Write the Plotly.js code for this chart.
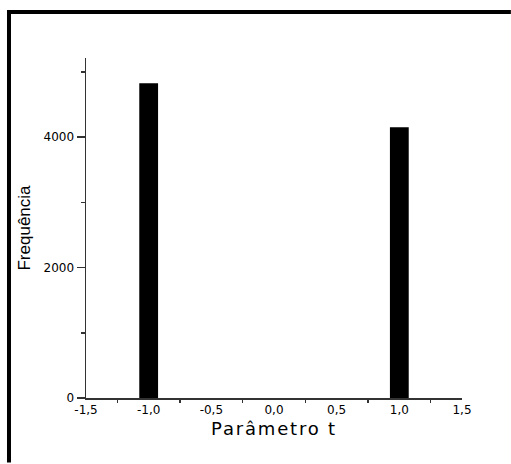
<!DOCTYPE html>
<html>
<head>
<meta charset="utf-8">
<script src="https://cdn.plot.ly/plotly-3.0.1.min.js"></script>
<style>
html,body{margin:0;padding:0;background:#fff;overflow:hidden;}
#chart{overflow:hidden;}
#chart .xtitle{letter-spacing:1.8px;}
</style>
</head>
<body>
<div id="chart" style="width:511px;height:464px;"></div>
<script>
// Histogram bins (centre of bin) and counts
const binCenters = [-1.0, 1.0];
const counts = [4826, 4154];
const binWidth = 0.15;

const xTickVals = [-1.5, -1.0, -0.5, 0.0, 0.5, 1.0, 1.5];
const xTickText = ['-1,5', '-1,0', '-0,5', '0,0', '0,5', '1,0', '1,5'];
const xMinorVals = [-1.25, -0.75, -0.25, 0.25, 0.75, 1.25];
const yTickVals = [0, 2000, 4000];
const yTickText = ['0', '2000', '4000'];
const yMinorVals = [1000, 3000, 5000];

const axisColor = '#333333';
const tickFont = {family: 'DejaVu Sans', size: 12, color: '#000'};

const traces = [{
  type: 'bar',
  x: binCenters,
  y: counts,
  width: binWidth,
  marker: {color: '#000000', line: {width: 0}},
  hoverinfo: 'x+y'
}];

const layout = {
  width: 511,
  height: 464,
  margin: {l: 86, r: 49, t: 58, b: 66, pad: 0},
  paper_bgcolor: '#ffffff',
  plot_bgcolor: '#ffffff',
  showlegend: false,
  xaxis: {
    range: [-1.5, 1.5],
    tickmode: 'array',
    tickvals: xTickVals,
    ticktext: xTickText,
    ticks: '',
    showgrid: false,
    zeroline: false,
    showline: true,
    linecolor: axisColor,
    linewidth: 1.5,
    tickfont: tickFont,
    minor: {tickmode: 'array', tickvals: xMinorVals, ticks: 'outside', ticklen: 3, tickwidth: 1.5, tickcolor: axisColor, showgrid: false},
    title: {text: 'Parâmetro t', font: {family: 'DejaVu Sans', size: 18, color: '#000'}, standoff: 6},
    automargin: false,
    fixedrange: true
  },
  xaxis2: {
    overlaying: 'x',
    matches: 'x',
    anchor: 'y',
    side: 'bottom',
    range: [-1.5, 1.5],
    tickmode: 'array',
    tickvals: xMinorVals,
    ticks: 'inside',
    ticklen: 3,
    tickwidth: 1.5,
    tickcolor: axisColor,
    showticklabels: false,
    showline: false,
    showgrid: false,
    zeroline: false,
    fixedrange: true
  },
  yaxis: {
    range: [0, 5215],
    tickmode: 'array',
    tickvals: yTickVals,
    ticktext: yTickText,
    ticks: 'outside',
    ticklen: 8,
    tickwidth: 1.5,
    tickcolor: axisColor,
    showgrid: false,
    zeroline: false,
    showline: true,
    linecolor: axisColor,
    linewidth: 1.5,
    tickfont: tickFont,
    minor: {tickmode: 'array', tickvals: yMinorVals, ticks: 'outside', ticklen: 4, tickwidth: 1.5, tickcolor: axisColor, showgrid: false},
    title: {text: 'Frequência', font: {family: 'Liberation Sans', size: 17, color: '#000'}, standoff: 8},
    automargin: false,
    fixedrange: true
  },
  shapes: [{
    type: 'path', xref: 'paper', yref: 'paper',
    path: 'M -0.2048,-0.19 L -0.2048,1.135 L 1.13,1.135',
    line: {color: '#000', width: 4}, layer: 'above'
  }]
};

Plotly.newPlot('chart', traces, layout, {displayModeBar: false, staticPlot: true});
</script>
</body>
</html>
